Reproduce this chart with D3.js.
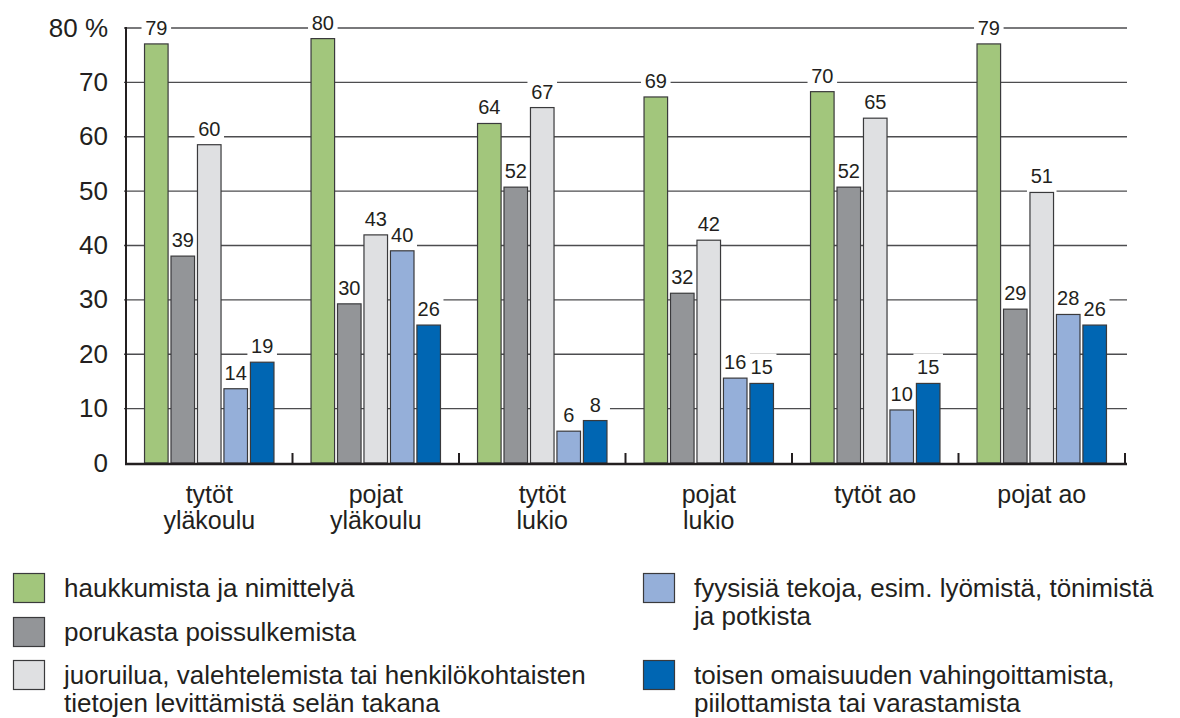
<!DOCTYPE html>
<html>
<head>
<meta charset="utf-8">
<script src="https://cdn.jsdelivr.net/npm/d3@7"></script>
<style>
	body { margin:0 ; background:#fff ; }
	svg text { font-family: "Liberation Sans", Arial, sans-serif ; fill:#231f20 ; }
</style>
</head>
<body>
<div id="chart"></div>
<script>

const categories = [ ["tytöt","yläkoulu"], ["pojat","yläkoulu"], ["tytöt","lukio"], ["pojat","lukio"], ["tytöt ao"], ["pojat ao"] ] ;
const seriesNames = [
	"haukkumista ja nimittelyä",
	"porukasta poissulkemista",
	"juoruilua, valehtelemista tai henkilökohtaisten|tietojen levittämistä selän takana",
	"fyysisiä tekoja, esim. lyömistä, tönimistä|ja potkista",
	"toisen omaisuuden vahingoittamista,|piilottamista tai varastamista"
] ;
const seriesColors = [ "#a2c67c", "#939598", "#dfe0e2", "#95afd9", "#0066b3" ] ;

const haukkuminen   = [ 79, 80, 64, 69, 70, 79 ] ;
const poissulkeminen = [ 39, 30, 52, 32, 52, 29 ] ;
const juoruilu      = [ 60, 43, 67, 42, 65, 51 ] ;
const fyysiset      = [ 14, 40, 6, 16, 10, 28 ] ;
const omaisuus      = [ 19, 26, 8, 15, 15, 26 ] ;
const series = [ haukkuminen, poissulkeminen, juoruilu, fyysiset, omaisuus ] ;

const yTicks = [ 0, 10, 20, 30, 40, 50, 60, 70, 80 ] ;

const width = 1180 ;
const height = 718 ;

var svg = d3.select("#chart").append("svg")
	.attr("width", width)
	.attr("height", height) ;

const x0 = d3.scaleBand()
	.domain( d3.range(categories.length) )
	.range([126, 1125]) ;

const x1 = d3.scaleBand()
	.domain( d3.range(series.length) )
	.range([0, x0.bandwidth()])
	.paddingInner(0.11)
	.paddingOuter(0.7) ;

const y = d3.scaleLinear().domain([0, 80]).range([463, 28]) ;
// bars in the original sit a bit lower than their printed values
const yBar = d3.scaleLinear().domain([0, 82]).range([463, 28]) ;

// gridlines
svg.append("g")
	.selectAll("line")
	.data( yTicks.slice(1) )
	.enter()
		.append("line")
			.attr("x1", 124)
			.attr("x2", 1127)
			.attr("y1", function(d) { return y(d) })
			.attr("y2", function(d) { return y(d) })
			.attr("stroke", "#4d4d4f")
			.attr("stroke-width", 1.4) ;

// y tick labels
svg.append("g")
	.selectAll("text")
	.data( yTicks )
	.enter()
		.append("text")
			.attr("x", 108)
			.attr("y", function(d) { return y(d) + 8.5 })
			.attr("text-anchor", "end")
			.style("font-size", "26px")
			.text( function(d) { return d === 80 ? "80 %" : d } ) ;

const barData = [] ;
series.forEach( function(s, si) {
	s.forEach( function(v, ci) {
		barData.push( { s:si, c:ci, v:v } ) ;
	}) ;
}) ;

// white boxes behind value labels
svg.append("g")
	.selectAll("rect")
	.data( barData )
	.enter()
		.append("rect")
			.attr("x", function(d) { return x0(d.c) + x1(d.s) - 3 })
			.attr("y", function(d) { return yBar(d.v) - 30 })
			.attr("width", x1.bandwidth() + 6)
			.attr("height", 30)
			.attr("fill", "#fff") ;

// bars
svg.append("g")
	.selectAll("rect")
	.data( barData )
	.enter()
		.append("rect")
			.attr("x", function(d) { return x0(d.c) + x1(d.s) })
			.attr("y", function(d) { return yBar(d.v) })
			.attr("width", x1.bandwidth())
			.attr("height", function(d) { return yBar(0) - yBar(d.v) })
			.attr("fill", function(d) { return seriesColors[d.s] })
			.attr("stroke", "#3a3a3c")
			.attr("stroke-width", 1.2) ;

// value labels
svg.append("g")
	.selectAll("text")
	.data( barData )
	.enter()
		.append("text")
			.attr("x", function(d) { return x0(d.c) + x1(d.s) + x1.bandwidth()/2 })
			.attr("y", function(d) { return yBar(d.v) - 9 })
			.attr("text-anchor", "middle")
			.style("font-size", "20px")
			.text( function(d) { return d.v } ) ;

// axes lines
svg.append("line")
	.attr("x1", 126).attr("x2", 126)
	.attr("y1", 27).attr("y2", 464)
	.attr("stroke", "#231f20")
	.attr("stroke-width", 2) ;

svg.append("line")
	.attr("x1", 125).attr("x2", 1127)
	.attr("y1", 464).attr("y2", 464)
	.attr("stroke", "#231f20")
	.attr("stroke-width", 2.6) ;

svg.append("g")
	.selectAll("line")
	.data( d3.range(categories.length + 1) )
	.enter()
		.append("line")
			.attr("x1", function(d) { return d < categories.length ? x0(d) : x0.range()[1] })
			.attr("x2", function(d) { return d < categories.length ? x0(d) : x0.range()[1] })
			.attr("y1", 453)
			.attr("y2", 464)
			.attr("stroke", "#231f20")
			.attr("stroke-width", 2) ;

// category labels
const catText = svg.append("g")
	.selectAll("text")
	.data( categories )
	.enter()
		.append("text")
			.attr("x", function(d, i) { return x0(i) + x0.bandwidth()/2 })
			.attr("y", 503)
			.attr("text-anchor", "middle")
			.style("font-size", "25px") ;

catText.selectAll("tspan")
	.data( function(d) { return d } )
	.enter()
		.append("tspan")
			.attr("x", function() { return d3.select(this.parentNode).attr("x") })
			.attr("dy", function(d, i) { return i === 0 ? 0 : 26 })
			.text( function(d) { return d } ) ;

// legend
const legendPos = [ [13, 597], [13, 641], [13, 684], [643, 597], [643, 684] ] ;

const legend = svg.append("g")
	.selectAll("g")
	.data( seriesNames )
	.enter()
		.append("g")
			.attr("transform", function(d, i) { return "translate(" + legendPos[i][0] + "," + legendPos[i][1] + ")" }) ;

legend.append("rect")
	.attr("x", 0.5)
	.attr("y", -23.5)
	.attr("width", 31)
	.attr("height", 29)
	.attr("fill", function(d, i) { return seriesColors[i] })
	.attr("stroke", "#3a3a3c")
	.attr("stroke-width", 1.2) ;

legend.append("text")
	.attr("x", 51)
	.attr("y", 0)
	.style("font-size", "26px")
	.selectAll("tspan")
	.data( function(d) { return d.split("|") } )
	.enter()
		.append("tspan")
			.attr("x", 51)
			.attr("dy", function(d, i) { return i === 0 ? 0 : 28 })
			.text( function(d) { return d } ) ;

</script>
</body>
</html>
